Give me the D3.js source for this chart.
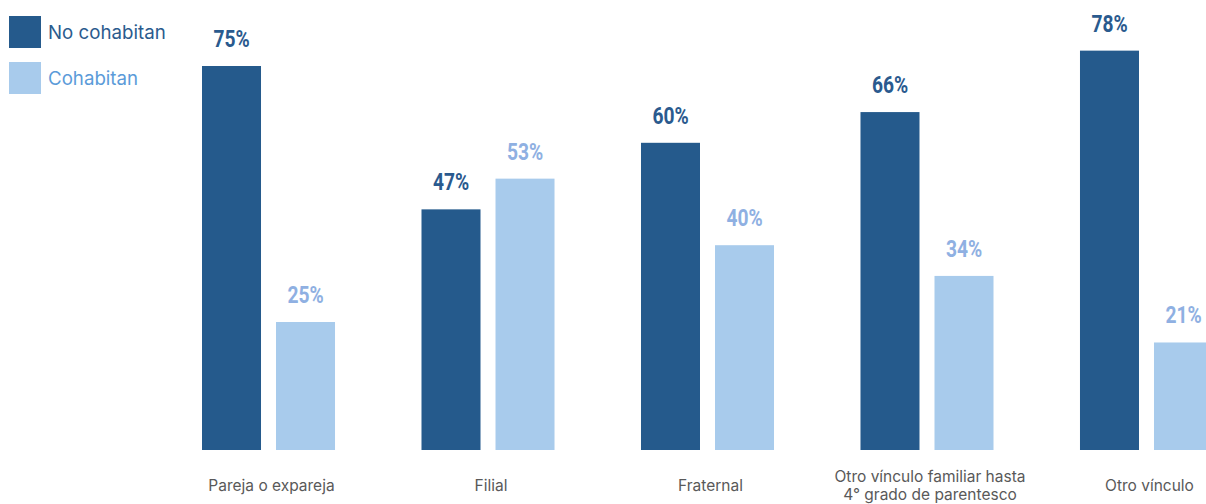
<!DOCTYPE html>
<meta charset="utf-8">
<script src="https://d3js.org/d3.v7.min.js"></script>
<style>
  body { margin: 0; background: #fff; }
</style>
<div id="chart"></div>
<script>
// data
var categories = ["Pareja o expareja", "Filial", "Fraternal", "Otro vínculo familiar hasta|4° grado de parentesco", "Otro vínculo"];
var series = ["No cohabitan", "Cohabitan"];
var noCohabitan = [75, 47, 60, 66, 78];
var cohabitan = [25, 53, 40, 34, 21];

var colors = {"No cohabitan": "#255a8c", "Cohabitan": "#a8cbec"};
var labelColors = {"No cohabitan": "#2a5a8e", "Cohabitan": "#8fb0e2"};
var legendText = {"No cohabitan": "#2b5b8e", "Cohabitan": "#5b9bd9"};

var width = 1206, height = 504;
var svg = d3.select("#chart").append("svg")
  .attr("width", width)
  .attr("height", height);

var rows = categories.map((c, i) => ({cat: c, values: [
  {key: "No cohabitan", val: noCohabitan[i]},
  {key: "Cohabitan", val: cohabitan[i]}
]}));

var x0 = d3.scaleBand()
  .domain(categories)
  .range([202, 1213])
  .paddingInner(0.394)
  .paddingOuter(0);

var x1 = d3.scaleBand()
  .domain(series)
  .range([0, x0.bandwidth()])
  .paddingInner(0.2027);

var y = d3.scaleLinear()
  .domain([0, 100])
  .range([450, -62]);

var groups = svg.selectAll("g.grp")
  .data(rows)
  .enter().append("g")
  .attr("class", "grp")
  .attr("transform", d => "translate(" + x0(d.cat) + ",0)");

groups.selectAll("rect")
  .data(d => d.values)
  .enter().append("rect")
  .attr("x", d => x1(d.key))
  .attr("y", d => y(d.val))
  .attr("width", x1.bandwidth())
  .attr("height", d => y(0) - y(d.val))
  .attr("fill", d => colors[d.key]);

// condensed look: squeeze Roboto bold horizontally
groups.selectAll("text.val")
  .data(d => d.values)
  .enter().append("text")
  .attr("class", "val")
  .attr("transform", d => "translate(" + (x1(d.key) + x1.bandwidth() / 2) + "," + (y(d.val) - 19) + ") scale(0.8,1)")
  .attr("text-anchor", "middle")
  .style("font-family", "Roboto, sans-serif")
  .style("font-weight", "bold")
  .style("font-size", "24px")
  .attr("fill", d => labelColors[d.key])
  .text(d => d.val + "%");

// category labels
groups.each(function(d) {
  var lines = d.cat.split("|");
  var t = d3.select(this).append("text")
    .attr("text-anchor", "middle")
    .style("font-family", "Inter, sans-serif")
    .style("font-size", "15.5px")
    .attr("fill", "#595959");
  var startY = lines.length > 1 ? 482 : 491;
  lines.forEach((l, i) => {
    t.append("tspan")
      .attr("x", x0.bandwidth() / 2 + 3)
      .attr("y", startY + i * 18)
      .text(l);
  });
});

// legend
var legend = svg.selectAll("g.leg")
  .data(series)
  .enter().append("g")
  .attr("class", "leg")
  .attr("transform", (d, i) => "translate(9," + (16 + i * 46) + ")");

legend.append("rect")
  .attr("width", 32)
  .attr("height", 32)
  .attr("fill", d => colors[d]);

legend.append("text")
  .attr("x", 39)
  .attr("y", 23)
  .style("font-family", "Inter, sans-serif")
  .style("font-size", "18.7px")
  .attr("fill", d => legendText[d])
  .text(d => d);
</script>
